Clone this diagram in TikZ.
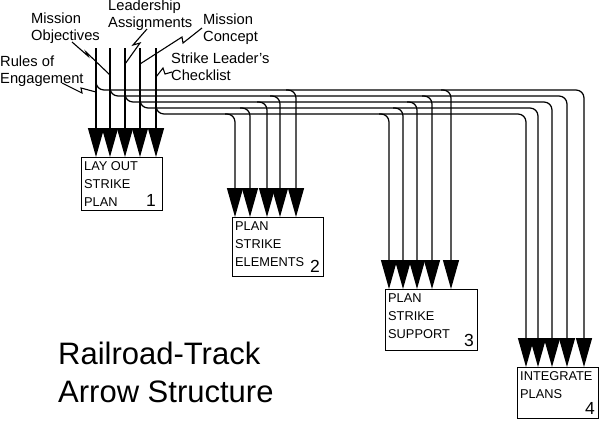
\documentclass[tikz,border=0pt]{standalone}
\usepackage{fontspec}
\setmainfont{Liberation Sans}
\usetikzlibrary{arrows.meta}

\begin{document}
\begin{tikzpicture}[x=1pt, y=-1pt,
    box/.style={draw, line width=1.1pt, anchor=north west, inner sep=0pt},
    boxtext/.style={anchor=north west, inner xsep=3pt, inner ysep=4.5pt, align=left, font=\fontsize{12.8}{18}\selectfont},
    num/.style={anchor=south east, inner sep=4pt, font=\fontsize{17.5}{20}\selectfont},
    lbl/.style={anchor=north west, inner sep=0pt, align=left, font=\fontsize{14.7}{17}\selectfont},
    rail/.style={line width=1.25pt, rounded corners=8pt},
    tip/.style={-{Triangle[length=29pt, width=16pt]}},
    leader/.style={line width=1.1pt}]

    \useasboundingbox (0,0) rectangle (600,421);

    % Boxes
    \node[box, minimum width=81, minimum height=53] (layout) at (81,157) {};
    \node[boxtext] (layoutt) at (layout.north west) {LAY OUT\\STRIKE\\PLAN};
    \node[num, xshift=-3pt] (layoutn) at (layout.south east) {1};

    \node[box, minimum width=91, minimum height=59] (elements) at (232,217) {};
    \node[boxtext] (elementst) at (elements.north west) {PLAN\\STRIKE\\ELEMENTS};
    \node[num] (elementsn) at (elements.south east) {2};

    \node[box, minimum width=92, minimum height=61] (support) at (385,289) {};
    \node[boxtext] (supportt) at (support.north west) {PLAN\\STRIKE\\SUPPORT};
    \node[num] (supportn) at (support.south east) {3};

    \node[box, minimum width=81, minimum height=51] (integrate) at (517,367) {};
    \node[boxtext] (integratet) at (integrate.north west) {INTEGRATE\\PLANS};
    \node[num] (integraten) at (integrate.south east) {4};

    % Rails: input, branch rail, drops to boxes 2, 3 and 4
    \foreach \i/\xa/\h/\xb/\xc/\xd in {1/96/90/296/451/584, 2/110/96/280/432/567,
        3/125/102/267/417/552, 4/140/108/250/403/538, 5/156/114/235/389/526} {
    \coordinate (top\i) at (\xa,48);
    \coordinate (jn\i) at (\xa,\h);
    \coordinate (dn\i) at (\xb,\h);
    \coordinate (dr\i) at (\xc,\h);
    \coordinate (cn\i) at (\xd,\h);
    \draw[rail, tip] (top\i) -- (top\i |- layout.north);
    \draw[rail, tip] ([yshift=10pt]jn\i) -- (jn\i) -- (cn\i) -- (cn\i |- integrate.north);
    \draw[rail, tip] ([xshift=-10pt]dn\i) -- (dn\i) -- (dn\i |- elements.north);
    \draw[rail, tip] ([xshift=-10pt]dr\i) -- (dr\i) -- (dr\i |- support.north);
    }

    % Input labels
    \node[lbl] (roe) at (0,56) {Rules of\\Engagement};
    \node[lbl] (obj) at (31,13) {Mission\\Objectives};
    \node[lbl] (lead) at (108,0) {Leadership\\Assignments};
    \node[lbl] (concept) at (203,14) {Mission\\Concept};
    \node[lbl] (check) at (171,53) {Strike Leader's\\Checklist};

    \coordinate (hit1) at (96,92);
    \coordinate (hit2) at (110,75);
    \coordinate (hit3) at (125,64);
    \coordinate (hit4) at (140,64);
    \coordinate (hit5) at (156,77);

    % Leaders
    \draw[leader] ([xshift=62pt,yshift=-27pt]roe.north west) -- (82,93) -- (81,88) -- (hit1);
    \draw[leader] ([xshift=41pt,yshift=-29pt]obj.north west) -- (88,56) -- (86,52) -- (hit2);
    \draw[leader] ([xshift=39pt,yshift=-29pt]lead.north west) -- (133,45) -- (140,43) -- (hit3);
    \draw[leader] ([xshift=-1pt,yshift=-14pt]concept.north west) -- (183,43) -- (182,37) -- (hit4);
    \draw[leader] ([xshift=1pt,yshift=-19pt]check.north west) -- (165,74) -- (163,68) -- (hit5);

    % Title
    \node[anchor=north west, inner sep=0pt, align=left, font=\fontsize{31}{38}\selectfont]
        (title) at (58,342) {Railroad-Track\\Arrow Structure};

\end{tikzpicture}
\end{document}
